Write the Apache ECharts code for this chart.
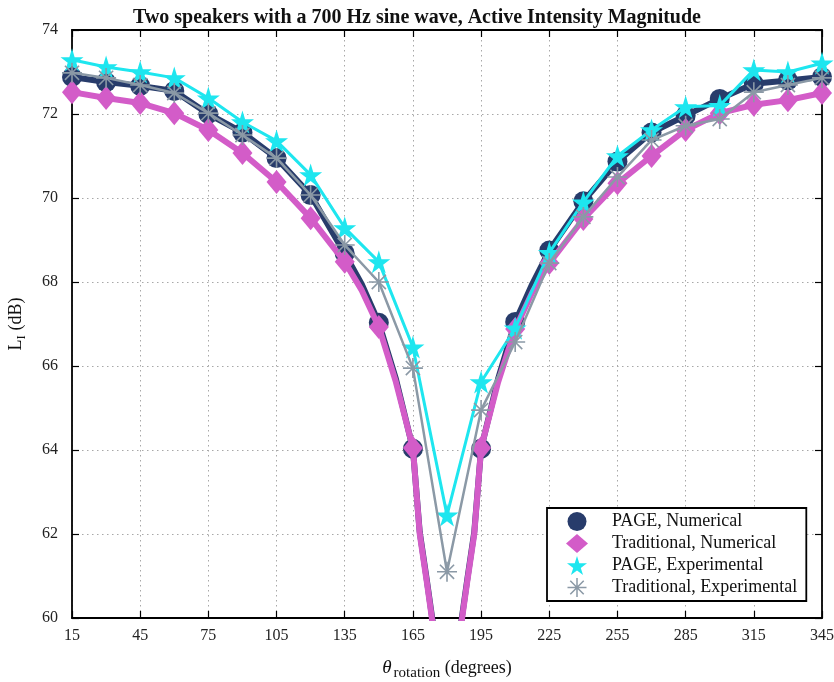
<!DOCTYPE html>
<html>
<head>
<meta charset="utf-8">
<script src="https://cdn.jsdelivr.net/npm/echarts@6/dist/echarts.min.js"></script>
<style>
    html, body { margin: 0; padding: 0; background: #fff; }
    #chart { width: 834px; height: 682px; }
</style>
</head>
<body>
<div id="chart"></div>
<script>
const angles = [15, 30, 45, 60, 75, 90, 105, 120, 135, 150, 165, 180, 195, 210, 225, 240, 255, 270, 285, 300, 315, 330, 345];
const xTicks = [15, 45, 75, 105, 135, 165, 195, 225, 255, 285, 315, 345];

// numerical curves (180 deg falls far below the axis)
const pageNum = [72.88, 72.76, 72.67, 72.55, 72.0, 71.56, 70.95, 70.07, 68.68, 67.03, 64.03, 55, 64.03, 67.05, 68.75, 69.92, 70.87, 71.56, 71.96, 72.36, 72.72, 72.8, 72.88];
const tradNum = [72.52, 72.38, 72.26, 72.02, 71.62, 71.07, 70.38, 69.52, 68.48, 66.93, 64.05, 55, 64.05, 66.88, 68.45, 69.5, 70.35, 71.0, 71.62, 72.02, 72.22, 72.33, 72.5];
// extra resolution of the numerical curves, no markers
const dipAngles = [142.5, 157.5, 168, 171, 174, 177, 183, 186, 189, 192, 202.5, 217.5];
const pageNumDip = [67.95, 65.7, 62.05, 60.95, 59.8, 57.5, 57.5, 59.8, 60.95, 62.05, 65.7, 67.95];
const tradNumDip = [67.8, 65.62, 62.0, 60.9, 59.75, 57.4, 57.4, 59.75, 60.9, 62.0, 65.62, 67.75];

const pageExp = [73.29, 73.12, 73.0, 72.86, 72.38, 71.81, 71.36, 70.55, 69.29, 68.48, 66.45, 62.45, 65.62, 66.9, 68.7, 69.9, 71.0, 71.62, 72.17, 72.2, 73.05, 73.0, 73.21];
const tradExp = [72.98, 72.86, 72.69, 72.5, 72.02, 71.5, 70.95, 70.07, 68.88, 68.0, 65.95, 61.1, 64.95, 66.57, 68.45, 69.55, 70.5, 71.38, 71.72, 71.88, 72.52, 72.69, 72.86];

const seriesNames = ['PAGE, Numerical', 'Traditional, Numerical', 'PAGE, Experimental', 'Traditional, Experimental'];
const colors = ['#283c6b', '#d35cc8', '#1ee6ef', '#8b99a6'];

const FONT = '"Liberation Serif", "Times New Roman", serif';
const STAR = 'path://M50,0 L61,35 L98,35 L68,57 L79,91 L50,70 L21,91 L32,57 L2,35 L39,35 Z';
const ASTERISK = 'path://M0,46 L100,46 L100,54 L0,54 Z M46,0 L54,0 L54,100 L46,100 Z ' +
    'M11.81,17.47 L17.47,11.81 L88.19,82.53 L82.53,88.19 Z M88.19,17.47 L17.47,88.19 L11.81,82.53 L82.53,11.81 Z';

function withDip(vals, dipVals) {
    const pts = angles.map((a, i) => ({ value: [a, vals[i]] }));
    dipAngles.forEach((a, i) => pts.push({ value: [a, dipVals[i]], symbol: 'none' }));
    pts.sort((p, q) => p.value[0] - q.value[0]);
    return pts;
}

function plain(vals) {
    return angles.map((a, i) => [a, vals[i]]);
}

const chart = echarts.init(document.getElementById('chart'));

const tickStyle = { inside: true, length: 7, lineStyle: { color: '#000', width: 1.2 } };
const lineStyle = { show: true, onZero: false, lineStyle: { color: '#000', width: 1.8 } };
const splitStyle = { show: true, lineStyle: { color: '#a8a8a8', width: 1, type: [1.5, 3.5] } };

chart.setOption({
    animation: false,
    backgroundColor: '#fff',
    title: {
        text: 'Two speakers with a 700 Hz sine wave, Active Intensity Magnitude',
        left: 'center',
        top: 3,
        textStyle: { fontFamily: FONT, fontSize: 20, fontWeight: 'bold', color: '#111' }
    },
    grid: { left: 72, right: 12, top: 30, bottom: 64, outerBoundsMode: 'none' },
    xAxis: [{
        type: 'value',
        min: 15,
        max: 345,
        interval: 30,
        name: '{i|θ}{s|rotation}{b| (degrees)}',
        nameLocation: 'middle',
        nameGap: 30,
        nameTextStyle: {
            fontFamily: FONT,
            color: '#111',
            rich: {
                i: { fontFamily: FONT, fontStyle: 'italic', fontSize: 19, lineHeight: 26, verticalAlign: 'middle' },
                s: { fontFamily: FONT, fontSize: 15, lineHeight: 26, verticalAlign: 'bottom', padding: [17, 0, 0, 2] },
                b: { fontFamily: FONT, fontSize: 18, lineHeight: 26, verticalAlign: 'middle' }
            }
        },
        axisLine: lineStyle,
        axisTick: tickStyle,
        splitLine: splitStyle,
        axisLabel: { fontFamily: FONT, fontSize: 16, color: '#222', margin: 10, customValues: xTicks },
        axisPointer: { show: false }
    }, {
        type: 'value',
        position: 'top',
        min: 15,
        max: 345,
        interval: 30,
        axisLine: lineStyle,
        axisTick: tickStyle,
        axisLabel: { show: false },
        splitLine: { show: false }
    }],
    yAxis: [{
        type: 'value',
        min: 60,
        max: 74,
        interval: 2,
        name: '{b|L}{s|I}{b| (dB)}',
        nameLocation: 'middle',
        nameGap: 44,
        nameTextStyle: {
            fontFamily: FONT,
            color: '#111',
            rich: {
                b: { fontFamily: FONT, fontSize: 18, lineHeight: 24, verticalAlign: 'middle' },
                s: { fontFamily: FONT, fontSize: 13, lineHeight: 24, verticalAlign: 'bottom', padding: [8, 0, 0, 0] }
            }
        },
        axisLine: lineStyle,
        axisTick: tickStyle,
        splitLine: splitStyle,
        axisLabel: { fontFamily: FONT, fontSize: 16, color: '#222', margin: 14 }
    }, {
        type: 'value',
        position: 'right',
        min: 60,
        max: 74,
        interval: 2,
        axisLine: lineStyle,
        axisTick: tickStyle,
        axisLabel: { show: false },
        splitLine: { show: false }
    }],
    legend: {
        orient: 'vertical',
        left: 547,
        top: 508,
        padding: [4, 9, 4, 19],
        itemGap: 3,
        itemWidth: 22,
        itemHeight: 19,
        borderColor: '#000',
        borderWidth: 1.8,
        borderRadius: 0,
        backgroundColor: '#fff',
        textStyle: { fontFamily: FONT, fontSize: 18, color: '#111', padding: [0, 0, 0, 19] },
        data: [
            { name: seriesNames[0], icon: 'circle' },
            { name: seriesNames[1], icon: 'diamond' },
            { name: seriesNames[2], icon: STAR },
            { name: seriesNames[3], icon: ASTERISK }
        ]
    },
    series: [{
        name: seriesNames[0],
        type: 'line',
        data: withDip(pageNum, pageNumDip),
        symbol: 'circle',
        symbolSize: 20,
        itemStyle: { color: colors[0] },
        lineStyle: { color: colors[0], width: 6 },
        clip: true,
        z: 2
    }, {
        name: seriesNames[1],
        type: 'line',
        data: withDip(tradNum, tradNumDip),
        symbol: 'diamond',
        symbolSize: [20, 24],
        itemStyle: { color: colors[1] },
        lineStyle: { color: colors[1], width: 6 },
        clip: true,
        z: 3
    }, {
        name: seriesNames[2],
        type: 'line',
        data: plain(pageExp),
        symbol: STAR,
        symbolSize: 23,
        itemStyle: { color: colors[2] },
        lineStyle: { color: colors[2], width: 3 },
        clip: true,
        z: 4
    }, {
        name: seriesNames[3],
        type: 'line',
        data: plain(tradExp),
        symbol: ASTERISK,
        symbolSize: 20,
        itemStyle: { color: colors[3] },
        lineStyle: { color: colors[3], width: 2.5 },
        clip: true,
        z: 5
    }]
});

window.addEventListener('resize', () => chart.resize());
</script>
</body>
</html>
